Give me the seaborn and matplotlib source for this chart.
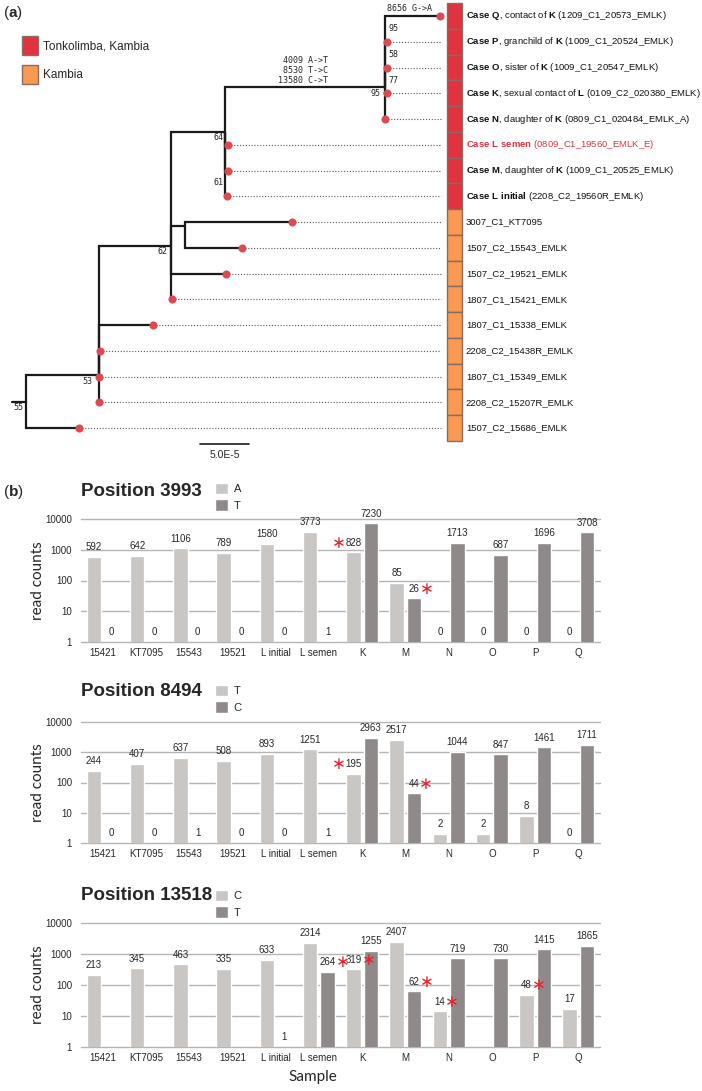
import numpy as np
import pandas as pd
import matplotlib
matplotlib.use("Agg")
import matplotlib.pyplot as plt
from matplotlib.patches import Patch
from matplotlib.ticker import NullLocator
import seaborn as sns

# ------------------------------------------ (a) tree data ------------------------------------------ #
# divergence from the root in units of 1e-5 subst./site, one row per tip (top to bottom)
tip_labels = [
    "**Case Q**, contact of **K** (1209_C1_20573_EMLK)",
    "**Case P**, granchild of **K** (1009_C1_20524_EMLK)",
    "**Case O**, sister of **K** (1009_C1_20547_EMLK)",
    "**Case K**, sexual contact of **L** (0109_C2_020380_EMLK)",
    "**Case N**, daughter of **K** (0809_C1_020484_EMLK_A)",
    "**Case L semen** (0809_C1_19560_EMLK_E)",
    "**Case M**, daughter of **K** (1009_C1_20525_EMLK)",
    "**Case L initial** (2208_C2_19560R_EMLK)",
    "3007_C1_KT7095",
    "1507_C2_15543_EMLK",
    "1507_C2_19521_EMLK",
    "1807_C1_15421_EMLK",
    "1807_C1_15338_EMLK",
    "2208_C2_15438R_EMLK",
    "1807_C1_15349_EMLK",
    "2208_C2_15207R_EMLK",
    "1507_C2_15686_EMLK",
]
tip_location = ["Tonkolimba, Kambia"] * 8 + ["Kambia"] * 9
tip_parent = ["E", "E", "E", "E", "E", "C", "C", "C", "D", "D", "B", "B", "A", "A", "A", "A", "root"]
tip_div = [42.2, 36.8, 36.8, 36.8, 36.6, 20.6, 20.6, 20.5, 27.1, 22.0, 20.4, 14.9, 13.0, 7.55, 7.45, 7.45, 5.4]

node_names = ["root", "A", "B", "C", "D", "E"]
node_parent = [None, "root", "A", "B", "B", "C"]
node_div = [0.0, 7.45, 14.8, 20.3, 16.2, 36.6]
node_row = [15.0, 13.95, 8.95, 4.5, 8.15, 2.75]

# bootstrap support labels
support_text = ["95", "58", "77", "95", "64", "61", "62", "53", "55"]
support_div = [37.0, 37.0, 37.0, 36.2, 20.2, 20.2, 14.4, 6.8, -0.3]
support_row = [0.5, 1.5, 2.5, 3.0, 4.7, 6.45, 9.15, 14.2, 15.2]
support_right = [True, True, True, False, False, False, False, False, False]

mutations_E = ["4009 A->T", "8530 T->C", "13580 C->T"]
mutations_Q = ["8656 G->A"]

# ------------------------------------------ (b) read counts ------------------------------------------ #
samples = ["15421", "KT7095", "15543", "19521", "L initial", "L semen", "K", "M", "N", "O", "P", "Q"]

pos3993_alleles = ["A", "T"]
pos3993_A = [592, 642, 1106, 789, 1580, 3773, 828, 85, 0, 0, 0, 0]
pos3993_T = [0, 0, 0, 0, 0, 1, 7230, 26, 1713, 687, 1696, 3708]
pos3993_stars = [("A", "K", "left"), ("T", "M", "right")]

pos8494_alleles = ["T", "C"]
pos8494_T = [244, 407, 637, 508, 893, 1251, 195, 2517, 2, 2, 8, 0]
pos8494_C = [0, 0, 1, 0, 0, 1, 2963, 44, 1044, 847, 1461, 1711]
pos8494_stars = [("T", "K", "left"), ("C", "M", "right")]

pos13518_alleles = ["C", "T"]
pos13518_C = [213, 345, 463, 335, 633, 2314, 319, 2407, 14, None, 48, 17]
pos13518_T = [None, None, None, None, 1, 264, 1255, 62, 719, 730, 1415, 1865]
pos13518_stars = [("T", "L semen", "right"), ("C", "K", "right"), ("T", "M", "right"),
                  ("C", "N", "right"), ("C", "P", "right")]

# ------------------------------------------ style ------------------------------------------ #
sns.set_style("white")
plt.rcParams["font.family"] = ["Liberation Sans", "DejaVu Sans"]
plt.rcParams["mathtext.fontset"] = "custom"
plt.rcParams["mathtext.rm"] = "Liberation Sans"
plt.rcParams["mathtext.bf"] = "Liberation Sans:bold"

RED = "#e0333f"
ORANGE = "#f99a50"
BOX_EDGE = "#8a6b62"
DOT = "#dc4b53"
LIGHT = "#c9c6c4"
DARK = "#8f8a89"
GRID = "#b5b5b5"
STAR = "#e8202a"

W, H = 702, 1091
fig = plt.figure(figsize=(W / 100, H / 100), dpi=100)


def to_math(s):
    parts = s.split("**")
    out = ""
    for i, p in enumerate(parts):
        if i % 2:
            out += "$\\bf{" + p.replace(" ", "\\ ") + "}$"
        else:
            out += p
    return out


# ------------------------------------------ (a) tree ------------------------------------------ #
ax = fig.add_axes([0, 1 - 470 / H, 1, 470 / H])
ax.set_xlim(-26 / 9.8, (W - 26) / 9.8)
ax.set_ylim(454 / 25.75, -16 / 25.75)
ax.axis("off")

pos = {n: (d, r) for n, d, r in zip(node_names, node_div, node_row)}
rows = np.arange(len(tip_labels))
edges = list(zip(node_parent[1:], node_div[1:], node_row[1:])) + list(zip(tip_parent, tip_div, rows))
for p, d, r in edges:
    px, pr = pos[p]
    ax.plot([px, px, d], [pr, r, r], color="#1a1a1a", lw=1.6,
            solid_capstyle="butt", solid_joinstyle="miter")
ax.plot([-1.4, 0], [node_row[0], node_row[0]], color="#1a1a1a", lw=1.6)

box_left, box_w = 42.96, 1.53
ax.hlines(rows, tip_div, box_left - 0.6, colors="#555555", lw=0.8, linestyles=(0, (1, 1.6)))
ax.scatter(tip_div, rows, s=34, color=DOT, zorder=5, linewidths=0)

loc_colors = {"Tonkolimba, Kambia": RED, "Kambia": ORANGE}
ax.barh(rows, box_w, left=box_left, height=1.0, color=[loc_colors[l] for l in tip_location],
        edgecolor=BOX_EDGE, lw=1)

for r, lab in zip(rows, tip_labels):
    col = RED if "semen" in lab else "#111111"
    ax.text(box_left + box_w + 0.4, r, to_math(lab), ha="left", va="center", fontsize=6.8, color=col)

for t, d, r, right in zip(support_text, support_div, support_row, support_right):
    ax.text(d, r, t, ha="left" if right else "right", va="center", fontsize=6,
            family="DejaVu Sans Mono", color="#222222")

ax.text(30.8, pos["E"][1] - 0.08, "\n".join(mutations_E), ha="right", va="bottom",
        multialignment="right", fontsize=6, family="DejaVu Sans Mono", linespacing=1.15)
ax.text(tip_div[0] - 5.4, -0.3, mutations_Q[0], ha="left", va="center",
        fontsize=6, family="DejaVu Sans Mono")

# scale bar
ax.plot([17.8, 22.8], [16.62, 16.62], color="#1a1a1a", lw=1.2)
ax.text(20.3, 17.05, "5.0E-5", ha="center", va="center", fontsize=7.5)

fig.legend(handles=[Patch(facecolor=RED, edgecolor=BOX_EDGE), Patch(facecolor=ORANGE, edgecolor=BOX_EDGE)],
           labels=list(loc_colors), loc="upper left", bbox_to_anchor=(22 / W, 1 - 36 / H),
           frameon=False, fontsize=8.5, handlelength=1.36, handleheight=2.1,
           labelspacing=0.85, handletextpad=0.45, borderpad=0, borderaxespad=0)

fig.text(3 / W, 1 - 13 / H, "($\\bf{a}$)", fontsize=11, va="center", ha="left")
fig.text(3 / W, 1 - 492 / H, "($\\bf{b}$)", fontsize=11, va="center", ha="left")

# ------------------------------------------ (b) bars ------------------------------------------ #
panels = [
    ("Position 3993", pos3993_alleles, [pos3993_A, pos3993_T], pos3993_stars, 519, 642, 492, 483),
    ("Position 8494", pos8494_alleles, [pos8494_T, pos8494_C], pos8494_stars, 722, 843, 691, 685),
    ("Position 13518", pos13518_alleles, [pos13518_C, pos13518_T], pos13518_stars, 923, 1047, 896, 890),
]

for k, (title, alleles, values, stars, top, bottom, ty, ly) in enumerate(panels):
    bx = fig.add_axes([81 / W, 1 - bottom / H, 519 / W, (bottom - top) / H])
    df = pd.DataFrame({
        "sample": samples * 2,
        "allele": [alleles[0]] * len(samples) + [alleles[1]] * len(samples),
        "count": [0 if v is None else v for v in values[0] + values[1]],
    })
    bx.set_yscale("log")
    sns.barplot(data=df, x="sample", y="count", hue="allele", hue_order=alleles,
                palette=[LIGHT, DARK], width=0.8, gap=0.16, errorbar=None,
                legend=False, ax=bx, saturation=1)
    bx.set_ylim(1, 10000)
    bx.set_yticks([1, 10, 100, 1000, 10000], labels=["1", "10", "100", "1000", "10000"])
    bx.yaxis.set_minor_locator(NullLocator())
    bx.tick_params(length=0, labelsize=7)
    bx.tick_params(axis="y", pad=6.5)
    bx.tick_params(axis="x", pad=4)
    for s in bx.spines.values():
        s.set_visible(False)
    bx.yaxis.grid(True, color=GRID, lw=1)
    for gl in bx.get_ygridlines():
        gl.set_clip_on(False)
    bx.set_axisbelow(True)
    bx.set_ylabel("read counts", family=["Lato", "DejaVu Sans"], fontsize=11)
    bx.yaxis.set_label_coords(-36 / 519, 0.5)
    if k == 2:
        bx.set_xlabel("Sample", family=["Lato", "DejaVu Sans"], fontsize=11)
        bx.xaxis.set_label_coords((313 - 81) / 519, -(1070 - bottom) / (bottom - top))
    else:
        bx.set_xlabel("")

    texts = {}
    for h, cont in enumerate(bx.containers):
        for i, bar in enumerate(cont):
            v = values[h][i]
            if v is None:
                continue
            xc = bar.get_x() + bar.get_width() / 2
            texts[(alleles[h], samples[i])] = bx.annotate(
                str(v), (xc, max(v, 1)), xytext=(0, 7), textcoords="offset points",
                ha="center", va="center", fontsize=7, annotation_clip=False)
    for allele, smp, side in stars:
        t = texts[(allele, smp)]
        if side == "right":
            bx.annotate("\u2217", xy=(1, 0.5), xycoords=t, xytext=(0, 0), textcoords="offset points",
                        ha="left", va="center", fontsize=12, color=STAR, family="DejaVu Sans")
        else:
            bx.annotate("\u2217", xy=(0, 0.5), xycoords=t, xytext=(0, 0), textcoords="offset points",
                        ha="right", va="center", fontsize=12, color=STAR, family="DejaVu Sans")

    fig.text(81 / W, 1 - ty / H, title, ha="left", va="center", fontsize=13.5, fontweight="bold")
    fig.legend(handles=[Patch(facecolor=LIGHT), Patch(facecolor=DARK)], labels=alleles,
               loc="upper left", bbox_to_anchor=(215 / W, 1 - ly / H), frameon=False, fontsize=8,
               handlelength=1.17, handleheight=1.17, labelspacing=0.45, handletextpad=0.5,
               borderpad=0, borderaxespad=0)

fig.savefig("out.png", dpi=100)
